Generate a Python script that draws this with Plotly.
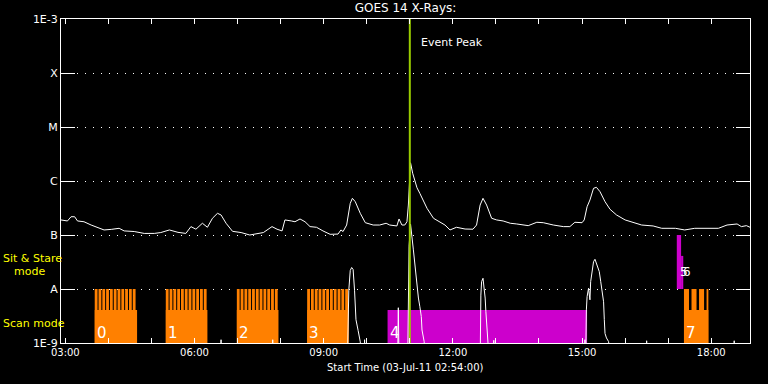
import math
from datetime import datetime, timedelta
import plotly.graph_objects as go

DAY = "2011-07-03"

# ---------------- data ----------------
# GOES 14 long channel (1-8 A), W/m^2
long_time = ["02:54", "03:03", "03:08", "03:13", "03:17", "03:26", "03:36", "03:45", "03:54", "04:04",
             "04:15", "04:22", "04:36", "04:50", "05:04", "05:13", "05:25", "05:37", "05:48", "05:55",
             "06:02", "06:11", "06:18", "06:25", "06:32", "06:37", "06:44", "06:53", "07:05", "07:17",
             "07:36", "07:48", "07:55", "08:02", "08:06", "08:15", "08:20", "08:27", "08:34", "08:41",
             "08:50", "08:59", "09:09", "09:20", "09:24", "09:27", "09:32", "09:37", "09:40", "09:44",
             "09:51", "09:58", "10:09", "10:18", "10:27", "10:32", "10:42", "10:45", "10:49", "10:53",
             "10:56", "10:58", "11:01", "11:04", "11:07", "11:10", "11:14", "11:24", "11:33", "11:42",
             "11:49", "11:56", "12:05", "12:17", "12:28", "12:33", "12:38", "12:42", "12:47", "12:54",
             "13:01", "13:10", "13:20", "13:29", "13:45", "13:57", "14:06", "14:20", "14:34", "14:43",
             "14:50", "15:00", "15:03", "15:07", "15:11", "15:16", "15:20", "15:25", "15:32", "15:39",
             "15:48", "16:00", "16:11", "16:23", "16:39", "16:51", "17:10", "17:23", "17:37", "17:56",
             "18:10", "18:22", "18:36", "18:42", "18:49", "18:54"]
long_flux = [1.90e-7, 1.82e-7, 2.18e-7, 2.18e-7, 1.82e-7, 1.76e-7, 1.53e-7, 1.36e-7, 1.24e-7, 1.27e-7,
             1.33e-7, 1.19e-7, 1.16e-7, 1.07e-7, 1.07e-7, 1.11e-7, 1.24e-7, 1.12e-7, 1.07e-7, 1.43e-7,
             1.28e-7, 1.65e-7, 1.39e-7, 2.04e-7, 2.52e-7, 2.35e-7, 1.65e-7, 1.17e-7, 1.11e-7, 1.00e-7,
             1.11e-7, 1.43e-7, 1.28e-7, 1.19e-7, 1.90e-7, 1.82e-7, 1.76e-7, 1.98e-7, 1.76e-7, 1.43e-7,
             1.39e-7, 1.19e-7, 1.03e-7, 1.04e-7, 1.24e-7, 1.16e-7, 1.53e-7, 3.86e-7, 4.78e-7, 4.14e-7,
             2.52e-7, 1.69e-7, 1.53e-7, 1.53e-7, 1.65e-7, 1.53e-7, 1.47e-7, 1.98e-7, 1.53e-7, 1.53e-7,
             1.76e-7, 3.59e-7, 2.18e-6, 1.39e-6, 1.04e-6, 7.50e-7, 5.90e-7, 3.12e-7, 2.04e-7, 1.76e-7,
             1.53e-7, 1.24e-7, 1.39e-7, 1.29e-7, 1.28e-7, 1.53e-7, 3.59e-7, 4.78e-7, 3.59e-7, 2.04e-7,
             1.90e-7, 1.82e-7, 1.65e-7, 1.60e-7, 1.49e-7, 1.72e-7, 1.69e-7, 1.53e-7, 1.43e-7, 1.43e-7,
             1.72e-7, 1.69e-7, 1.90e-7, 3.34e-7, 4.45e-7, 7.32e-7, 7.64e-7, 6.34e-7, 4.14e-7, 2.99e-7,
             2.35e-7, 1.90e-7, 1.69e-7, 1.53e-7, 1.47e-7, 1.33e-7, 1.33e-7, 1.24e-7, 1.33e-7, 1.33e-7,
             1.33e-7, 1.53e-7, 1.60e-7, 1.43e-7, 1.49e-7, 1.39e-7]

# GOES 14 short channel (0.5-4 A), W/m^2 (mostly below the 1E-9 floor)
short_time = ["02:54", "06:36", "06:37", "06:38", "07:48", "07:49", "07:50", "09:33", "09:35", "09:37",
              "09:39", "09:41", "09:43", "09:45", "09:48", "09:51", "09:53", "09:56", "09:57", "09:58",
              "10:43", "10:44", "10:45", "10:57", "10:59", "11:01", "11:05", "11:08", "11:10", "11:12",
              "11:14", "11:16", "11:17", "11:20", "11:22", "12:38", "12:39", "12:40", "12:42", "12:45",
              "12:46", "12:47", "12:48", "12:49", "12:51", "12:56", "12:57", "12:58", "15:03", "15:04",
              "15:05", "15:06", "15:07", "15:09", "15:11", "15:12", "15:14", "15:16", "15:18", "15:20",
              "15:24", "15:26", "15:28", "15:30", "15:31", "15:32", "15:34", "15:37", "15:39", "16:29",
              "16:30", "16:31", "18:31", "18:32", "18:33", "18:54"]
short_flux = [4e-10, 4e-10, 1.15e-9, 4e-10, 4e-10, 1.15e-9, 4e-10, 4e-10, 9.5e-9, 2.2e-8,
              2.5e-8, 2.3e-8, 9.5e-9, 2.7e-9, 1.7e-9, 1.05e-9, 4e-10, 4e-10, 1.15e-9, 4e-10,
              4e-10, 4.5e-9, 4e-10, 4e-10, 6.2e-8, 1.6e-7, 5.3e-8, 2.0e-8, 1.37e-8, 6.8e-9,
              4.7e-9, 3.1e-9, 1.74e-9, 1.06e-9, 4e-10, 4e-10, 7.7e-9, 1.37e-8, 1.58e-8, 6.8e-9,
              3.8e-9, 2.3e-9, 1.4e-9, 1.14e-9, 4e-10, 4e-10, 1.12e-9, 4e-10, 4e-10, 1.15e-9,
              4e-10, 4.1e-9, 7.2e-9, 1.03e-8, 6.3e-9, 1.37e-8, 1.95e-8, 3.2e-8, 3.55e-8, 3.0e-8,
              2.1e-8, 1.37e-8, 9.6e-9, 5.8e-9, 2.7e-9, 1.5e-9, 1.24e-9, 1.06e-9, 4e-10, 4e-10,
              1.1e-9, 4e-10, 4e-10, 1.1e-9, 4e-10, 4e-10]

event_peak = "11:00"

# observation timeline
scan_start = ["03:41", "05:20", "06:59", "08:37", "17:22"]
scan_end = ["04:40", "06:18", "07:57", "09:35", "17:56"]
scan_period_min = [5.3, 5.3, 5.3, 5.3, 10.5]
scan_gap_min = [1.4, 1.4, 1.4, 1.4, 3.5]
scan_label = ["0", "1", "2", "3", "7"]

raster_start = ["10:29"]
raster_end = ["15:07"]
raster_label = ["4"]

stare_start = ["17:12", "17:18"]
stare_end = ["17:18", "17:21"]
stare_top = [1e-7, 4.1e-8]
stare_label = ["5", "6"]

scan_row_base = 1e-9
scan_row_top = 4.1e-9
scan_step_top = 1e-8
stare_row_base = 1e-8

class_vals = [1e-9, 1e-8, 1e-7, 1e-6, 1e-5, 1e-4, 1e-3]
class_text = ["1E-9", "A", "B", "C", "M", "X", "1E-3"]
hour_ticks = ["03:00", "04:00", "05:00", "06:00", "07:00", "08:00", "09:00", "10:00",
              "11:00", "12:00", "13:00", "14:00", "15:00", "16:00", "17:00", "18:00"]
hour_labels = ["03:00", "", "", "06:00", "", "", "09:00", "", "", "12:00", "", "",
               "15:00", "", "", "18:00"]
x_start, x_end = "02:54", "18:54"

# ---------------- styling ----------------
ORANGE = "#ff8000"
MAGENTA = "#cc00cc"
GREEN = "#99cc00"
YELLOW = "#ffff00"
FONT = "DejaVu Sans"


def dt(hhmm):
    return datetime.strptime(f"{DAY} {hhmm}", "%Y-%m-%d %H:%M")


def add_rect(xs, ys, x0, x1, y0, y1):
    xs += [x0, x0, x1, x1, x0, None]
    ys += [y0, y1, y1, y0, y0, None]


def poly_trace(xs, ys, color):
    return go.Scatter(x=xs, y=ys, mode="lines", fill="toself", fillcolor=color,
                      line=dict(width=0, color=color), hoverinfo="skip", showlegend=False)


fig = go.Figure()

# scan blocks: solid base + raster step teeth
sx, sy, tx, ty = [], [], [], []
for s, e, p, g in zip(scan_start, scan_end, scan_period_min, scan_gap_min):
    t0, t1 = dt(s), dt(e)
    add_rect(sx, sy, t0, t1, scan_row_base, scan_row_top)
    t = t0
    while t < t1:
        te = min(t + timedelta(minutes=p - g), t1)
        add_rect(tx, ty, t, te, scan_row_base, scan_step_top)
        t = t + timedelta(minutes=p)
fig.add_trace(poly_trace(sx, sy, ORANGE))
fig.add_trace(poly_trace(tx, ty, ORANGE))

# large raster (magenta) in scan row
mx, my = [], []
for s, e in zip(raster_start, raster_end):
    add_rect(mx, my, dt(s), dt(e), scan_row_base, scan_row_top)
fig.add_trace(poly_trace(mx, my, MAGENTA))

# sit & stare blocks
for s, e, top in zip(stare_start, stare_end, stare_top):
    qx, qy = [], []
    add_rect(qx, qy, dt(s), dt(e), stare_row_base, top)
    fig.add_trace(poly_trace(qx, qy, MAGENTA))

# GOES curves
fig.add_trace(go.Scatter(x=[dt(t) for t in long_time], y=long_flux, mode="lines",
                         line=dict(color="white", width=1), showlegend=False, hoverinfo="skip"))
fig.add_trace(go.Scatter(x=[dt(t) for t in short_time], y=short_flux, mode="lines",
                         line=dict(color="white", width=1), showlegend=False, hoverinfo="skip"))

# event peak line
fig.add_trace(go.Scatter(x=[dt(event_peak), dt(event_peak)], y=[class_vals[0], class_vals[-1]],
                         mode="lines", line=dict(color=GREEN, width=2),
                         showlegend=False, hoverinfo="skip"))

ann = []
for s, lab in zip(scan_start + raster_start, scan_label + raster_label):
    ann.append(dict(x=dt(s), y=-8.815, xref="x", yref="y", text=lab, showarrow=False,
                    xanchor="left", yanchor="middle", xshift=0,
                    font=dict(family=FONT, size=15, color="white")))
for i, (s, lab) in enumerate(zip(stare_start, stare_label)):
    ann.append(dict(x=dt(stare_start[0]), y=-7.685, xref="x", yref="y", text=lab,
                    showarrow=False, xanchor="left", yanchor="middle", xshift=1 + 3 * i,
                    font=dict(family=FONT, size=12, color="white")))
ann.append(dict(x=dt(event_peak), y=-3.444, xref="x", yref="y", text="Event Peak",
                showarrow=False, xanchor="left", yanchor="middle", xshift=9,
                font=dict(family=FONT, size=11, color="white")))
ann.append(dict(x=0.5, y=-0.077, xref="paper", yref="paper",
                text="Start Time (03-Jul-11 02:54:00)", showarrow=False,
                xanchor="center", yanchor="middle",
                font=dict(family=FONT, size=10, color="white")))
ann.append(dict(x=-0.087, y=-7.444, xref="paper", yref="y", text="Sit & Stare",
                showarrow=False, xanchor="left", yanchor="middle",
                font=dict(family=FONT, size=11, color=YELLOW)))
ann.append(dict(x=-0.071, y=-7.667, xref="paper", yref="y", text="mode",
                showarrow=False, xanchor="left", yanchor="middle",
                font=dict(family=FONT, size=11, color=YELLOW)))
ann.append(dict(x=-0.087, y=-8.648, xref="paper", yref="y", text="Scan mode",
                showarrow=False, xanchor="left", yanchor="middle",
                font=dict(family=FONT, size=11, color=YELLOW)))

fig.update_layout(
    width=768, height=384,
    margin=dict(l=61, r=18, t=19, b=41),
    paper_bgcolor="black", plot_bgcolor="black",
    title=dict(text="GOES 14 X-Rays:", x=0.5, xref="paper", y=1 - 8 / 384,
               yref="container", xanchor="center", yanchor="middle",
               font=dict(family=FONT, size=12, color="white")),
    annotations=ann,
    showlegend=False,
    xaxis=dict(type="date", range=[dt(x_start), dt(x_end)],
               tickvals=[dt(t) for t in hour_ticks], ticktext=hour_labels,
               ticks="inside", ticklen=5, tickwidth=1, tickcolor="white",
               showline=True, linecolor="white", linewidth=1, mirror="ticks",
               showgrid=False, zeroline=False,
               tickfont=dict(family=FONT, size=10, color="white")),
    yaxis=dict(type="log", range=[-9, -3], tickvals=class_vals, ticktext=class_text,
               ticks="inside", ticklen=14, tickwidth=1, tickcolor="white",
               showline=True, linecolor="white", linewidth=1, mirror="ticks",
               showgrid=True, gridcolor="white", gridwidth=1, griddash="1px,7px",
               zeroline=False,
               tickfont=dict(family=FONT, size=11, color="white")),
)

fig.write_html("out.html", config={"displayModeBar": False},
               post_script="document.body.style.margin='0';document.body.style.background='black';")
